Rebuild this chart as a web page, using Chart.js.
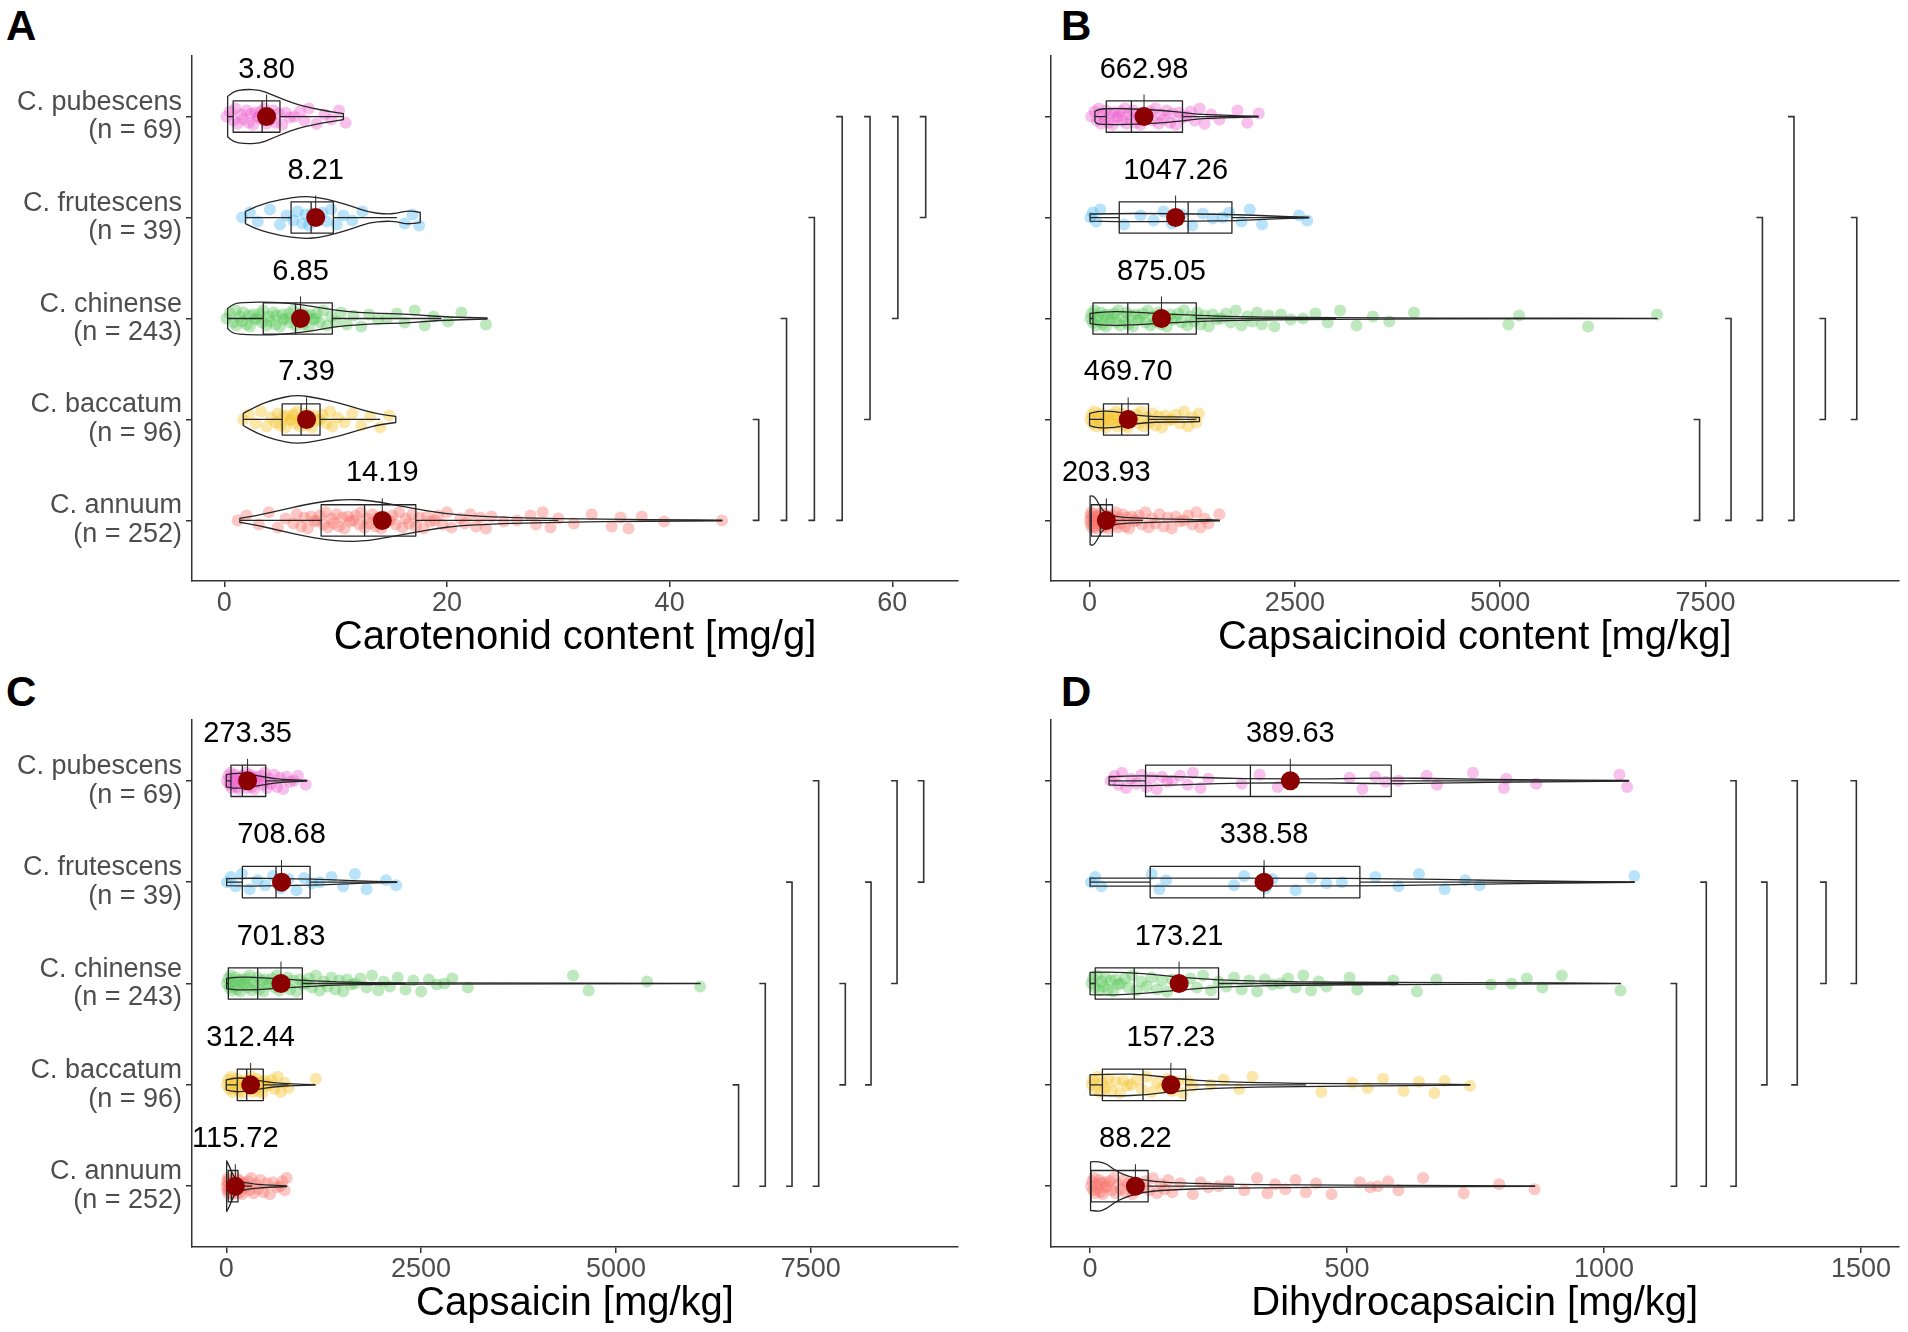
<!DOCTYPE html>
<html>
<head>
<meta charset="utf-8">
<script src="https://cdn.jsdelivr.net/npm/chart.js@4.4.1/dist/chart.umd.min.js"></script>
<style>
  html, body { margin: 0; padding: 0; background: #fff; }
  body { width: 1908px; height: 1332px; position: relative; overflow: hidden; font-family: 'Liberation Sans', Arial, sans-serif; }
  canvas { position: absolute; }
  .tag { position: absolute; font-weight: bold; font-size: 42px; line-height: 42px; color: #000; }
</style>
</head>
<body>
<div class="tag" style="left:6px;top:5px">A</div>
<div class="tag" style="left:1061px;top:5px">B</div>
<div class="tag" style="left:6px;top:671px">C</div>
<div class="tag" style="left:1061px;top:671px">D</div>
<canvas id="panelA" width="990" height="666" style="left:0;top:0"></canvas>
<canvas id="panelB" width="918" height="666" style="left:990px;top:0"></canvas>
<canvas id="panelC" width="990" height="666" style="left:0;top:666px"></canvas>
<canvas id="panelD" width="918" height="666" style="left:990px;top:666px"></canvas>
<script>
// categories, bottom to top
const species = ['C. annuum', 'C. baccatum', 'C. chinense', 'C. frutescens', 'C. pubescens'];
const sampleSizes = [252, 96, 243, 39, 69];
const speciesColors = ['#F8766D', '#F5C227', '#5CC85C', '#4DB8F2', '#EE62D0'];
// small vertical spread of the jittered dots (category units)
const jitterOffsets = [0, 0.05, -0.04, 0.08, -0.07, 0.02, -0.03, 0.06, -0.06, 0.03, -0.08, 0.04, -0.01];

// ---- A: carotenoid content [mg/g]
const carotTicks = [0, 20, 40, 60];
const carotMeans = [14.19, 7.39, 6.85, 8.21, 3.80];
// [whisker low, q1, median, q3, whisker high]
const carotBoxes = [[1.4, 8.7, 12.6, 17.2, 30.0], [1.7, 5.2, 6.9, 8.6, 14.0], [0.3, 3.5, 6.4, 9.7, 19.5], [1.9, 6.0, 7.8, 9.8, 15.5], [0.3, 0.8, 3.4, 5.0, 10.7]];
const carotViolins = [
  [[1.4,0.02],[3,0.05],[5,0.1],[7,0.15],[9,0.19],[11,0.21],[13,0.2],[15,0.16],[17,0.12],[19,0.08],[21,0.055],[24,0.035],[28,0.022],[32,0.015],[36,0.01],[40,0.006],[44.7,0.003]],
  [[1.7,0.06],[3,0.14],[4.5,0.2],[6.5,0.245],[8.5,0.21],[10.5,0.16],[12.5,0.09],[14,0.05],[15.4,0.03]],
  [[0.3,0.1],[0.8,0.15],[2,0.16],[4,0.165],[6,0.15],[8,0.12],[10,0.08],[12,0.06],[14,0.05],[16,0.045],[18,0.03],[20,0.015],[23.6,0.005]],
  [[1.9,0.06],[3,0.12],[5,0.18],[7,0.21],[8.5,0.2],[10,0.16],[11.5,0.11],[13,0.05],[14.5,0.035],[15.5,0.04],[16.5,0.07],[17.6,0.05]],
  [[0.3,0.2],[0.8,0.25],[1.8,0.27],[3.2,0.265],[4.2,0.22],[5.3,0.17],[6.5,0.12],[8,0.08],[9.5,0.05],[10.7,0.03]]
];
const carotPoints = [
  [1.2,2.0,3.1,4.0,4.8,5.5,6.2,6.5,6.9,7.2,7.5,7.8,8.1,8.3,8.6,8.9,9.1,9.3,9.6,9.8,10.1,10.3,10.6,10.8,11.1,11.3,11.6,11.8,12.1,12.3,12.6,12.8,13.1,13.3,13.6,13.8,14.1,14.3,14.6,14.9,15.1,15.4,15.7,16.0,16.3,16.6,16.9,17.2,17.5,17.9,18.2,18.5,18.9,19.2,19.6,20.0,20.4,21.2,21.6,22.1,22.6,23.0,23.5,24.0,25.1,26.3,27.5,28.0,28.6,29.3,30.0,31.4,33.0,34.8,35.6,36.3,37.5,39.5,44.7],
  [1.7,2.2,2.8,3.3,3.8,4.2,4.6,4.8,5.0,5.3,5.5,5.6,5.9,6.0,6.2,6.4,6.5,6.8,6.9,7.1,7.3,7.4,7.7,7.9,8.0,8.4,8.6,8.8,9.2,9.5,9.7,10.2,10.8,11.5,12.3,13.1,14.0,14.8],
  [0.2,0.5,0.8,1.0,1.1,1.4,1.6,1.7,2.0,2.2,2.3,2.6,2.8,2.9,3.2,3.4,3.5,3.8,4.0,4.1,4.4,4.6,4.7,5.0,5.2,5.3,5.6,5.8,5.9,6.2,6.4,6.5,6.8,7.0,7.1,7.4,7.6,7.7,8.0,8.2,8.3,8.6,8.9,9.2,9.6,10.0,10.5,11.0,11.6,12.3,13.0,13.8,14.6,15.5,16.2,17.1,18.0,18.8,20.1,21.3,23.5],
  [1.6,2.3,3.0,4.1,5.0,5.6,6.2,6.6,7.0,7.3,7.6,7.9,8.2,8.5,8.8,9.2,9.6,10.1,10.7,11.5,12.4,16.2,16.9,17.5],
  [0.2,0.5,0.8,1.0,1.2,1.5,1.7,2.0,2.2,2.4,2.6,2.8,3.0,3.1,3.3,3.5,3.6,3.8,4.0,4.2,4.4,4.6,4.9,5.2,5.5,5.9,6.3,6.8,7.2,7.6,8.3,9.0,9.6,10.3,10.9]
];
// [position, from species, to species]
const carotBrackets = [[48,1,0],[50.5,2,0],[53,3,0],[55.5,4,0],[58,4,1],[60.5,4,2],[63,4,3]];

// ---- B: capsaicinoid content [mg/kg]
const capsinoidTicks = [0, 2500, 5000, 7500];
const capsinoidMeans = [203.93, 469.70, 875.05, 1047.26, 662.98];
const capsinoidBoxes = [[6, 20, 130, 278, 650], [0, 169, 391, 717, 1300], [6, 41, 465, 1299, 3000], [6, 361, 1200, 1733, 2670], [65, 203, 509, 1131, 2053]];
const capsinoidViolins = [
  [[6,0.24],[40,0.25],[90,0.2],[150,0.1],[250,0.05],[400,0.03],[700,0.02],[1000,0.012],[1300,0.01],[1580,0.003]],
  [[0,0.06],[100,0.085],[300,0.08],[500,0.05],[700,0.03],[900,0.025],[1150,0.025],[1338,0.02]],
  [[6,0.05],[200,0.07],[500,0.065],[900,0.045],[1300,0.03],[1800,0.018],[2500,0.01],[3500,0.006],[5000,0.003],[6910,0.002]],
  [[6,0.035],[300,0.04],[800,0.04],[1300,0.035],[1800,0.03],[2200,0.015],[2670,0.003]],
  [[65,0.05],[100,0.075],[300,0.08],[600,0.075],[900,0.06],[1100,0.045],[1300,0.025],[1600,0.012],[2053,0.003]]
];
const capsinoidPoints = [
  [5,10,15,20,30,35,45,50,60,70,80,90,100,110,120,130,140,150,160,170,185,200,210,225,240,255,270,285,300,320,340,360,380,405,430,455,480,510,540,570,600,640,680,720,760,800,850,900,950,1000,1050,1100,1150,1200,1250,1300,1350,1400,1450,1580],
  [10,25,40,60,80,100,120,140,160,180,200,220,240,260,280,300,320,340,360,380,400,420,440,465,490,515,540,570,600,630,660,700,730,770,800,840,880,920,960,1000,1050,1100,1150,1200,1250,1300,1330],
  [10,25,40,60,80,100,120,140,160,180,200,225,250,275,300,325,350,375,400,425,450,475,500,530,560,590,620,650,680,710,740,770,800,840,870,900,940,980,1010,1050,1080,1120,1150,1190,1230,1270,1310,1350,1400,1450,1500,1550,1600,1660,1720,1780,1850,1920,1980,2040,2100,2180,2250,2330,2450,2600,2750,2900,3050,3250,3450,3650,3950,5100,5230,6070,6910],
  [10,40,80,130,420,620,780,900,1000,1120,1250,1380,1500,1620,1700,1850,1950,2100,2550,2650],
  [20,60,90,110,140,160,180,200,230,250,280,300,330,350,380,400,430,450,480,500,530,560,590,620,650,680,710,740,770,800,840,870,900,940,980,1010,1050,1090,1140,1180,1230,1280,1340,1400,1480,1580,1800,1920,2060]
];
const capsinoidBrackets = [[7428,1,0],[7811,2,0],[8193,3,0],[8577,4,0],[8959,2,1],[9342,3,1]];

// ---- C: capsaicin [mg/kg]
const capsaicinTicks = [0, 2500, 5000, 7500];
const capsaicinMeans = [115.72, 312.44, 701.83, 708.68, 273.35];
const capsaicinBoxes = [[5, 25, 65, 150, 330], [0, 141, 262, 475, 800], [5, 26, 403, 976, 2300], [5, 206, 638, 1075, 2188], [0, 60, 206, 506, 1000]];
const capsaicinViolins = [
  [[5,0.25],[40,0.2],[90,0.1],[150,0.05],[300,0.025],[500,0.012],[775,0.003]],
  [[0,0.05],[100,0.07],[250,0.065],[400,0.045],[600,0.02],[850,0.008],[1139,0.003]],
  [[5,0.05],[150,0.065],[400,0.06],[700,0.045],[1000,0.03],[1400,0.015],[2000,0.008],[3000,0.004],[6080,0.002]],
  [[5,0.035],[300,0.04],[700,0.035],[1100,0.03],[1500,0.018],[1900,0.008],[2188,0.003]],
  [[0,0.06],[100,0.075],[250,0.07],[400,0.05],[550,0.03],[700,0.015],[1032,0.003]]
];
const capsaicinPoints = [
  [5,10,15,20,25,30,40,45,55,60,70,80,85,95,100,110,120,130,140,150,165,180,190,205,220,240,260,280,300,320,350,380,410,440,480,520,560,600,650,690,720,750,775],
  [10,25,40,60,80,100,120,140,160,180,200,220,240,260,280,300,320,340,360,380,400,420,440,465,490,520,550,580,620,660,700,750,800,1150],
  [10,25,40,55,70,85,100,120,140,160,180,200,220,240,260,280,300,325,350,375,400,425,450,475,500,530,560,590,620,650,680,715,750,785,820,860,900,940,980,1020,1060,1100,1150,1200,1250,1300,1350,1400,1450,1500,1550,1600,1650,1720,1800,1870,1950,2020,2100,2200,2300,2400,2500,2600,2700,2800,2900,3100,4450,4650,5400,6080],
  [10,60,120,200,300,400,500,600,700,800,900,1000,1100,1200,1350,1500,1650,1800,2050,2180],
  [10,25,40,55,70,85,100,115,130,145,160,175,190,205,220,235,250,265,280,295,310,325,340,360,380,400,420,445,470,495,520,550,580,615,650,690,730,775,820,870,920,1020]
];
const capsaicinBrackets = [[6574,1,0],[6917,2,0],[7260,3,0],[7602,4,0],[7944,2,1],[8274,3,1],[8608,4,2],[8950,4,3]];

// ---- D: dihydrocapsaicin [mg/kg]
const dihydroTicks = [0, 500, 1000, 1500];
const dihydroMeans = [88.22, 157.23, 173.21, 338.58, 389.63];
const dihydroBoxes = [[1, 2, 55, 113, 280], [0, 24, 103, 186, 420], [0, 10, 86, 250, 600], [0, 117, 338, 525, 1059], [37, 108, 312, 586, 1048]];
const dihydroViolins = [
  [[1,0.24],[25,0.25],[55,0.13],[100,0.06],[150,0.035],[250,0.02],[400,0.012],[600,0.008],[865,0.002]],
  [[0,0.1],[50,0.11],[110,0.1],[170,0.06],[250,0.03],[400,0.015],[600,0.01],[739,0.003]],
  [[0,0.11],[40,0.115],[100,0.1],[180,0.06],[260,0.03],[400,0.015],[600,0.01],[800,0.008],[1032,0.002]],
  [[0,0.04],[150,0.04],[400,0.04],[600,0.035],[758,0.02],[900,0.008],[1059,0.002]],
  [[37,0.04],[80,0.05],[150,0.045],[250,0.025],[350,0.02],[450,0.018],[580,0.03],[700,0.02],[850,0.01],[1048,0.003]]
];
const dihydroPoints = [
  [2,4,6,8,10,12,15,18,20,22,25,28,30,34,38,42,46,50,55,60,65,70,75,82,88,95,100,108,115,122,130,138,145,152,160,175,200,215,230,250,270,300,325,345,360,380,400,420,440,470,525,545,560,580,600,648,727,796,865],
  [3,6,10,15,20,25,30,35,42,50,58,65,72,80,90,100,110,120,130,140,150,160,170,180,190,200,235,260,290,316,450,510,540,570,610,640,670,690,739],
  [3,6,10,14,18,22,26,30,35,40,45,50,55,60,68,75,82,90,100,110,120,130,140,150,160,170,182,195,208,220,235,250,265,280,295,310,325,340,355,370,385,400,415,430,445,460,505,520,590,636,674,780,820,850,880,918,1032],
  [2,10,22,120,135,148,280,300,342,355,400,430,460,490,555,600,640,690,730,758,1059],
  [40,48,55,62,70,80,90,100,110,120,130,140,150,160,175,190,200,215,230,295,330,365,505,530,555,575,600,655,675,745,805,810,868,1030,1045]
];
const dihydroBrackets = [[1141,2,0],[1199,3,0],[1257,4,0],[1317,3,1],[1376,4,1],[1432,3,2],[1491,4,2]];

Chart.defaults.font.family = "'Liberation Sans', Arial, sans-serif";

function withAlpha(hex, a) {
  const n = parseInt(hex.slice(1), 16);
  return `rgba(${n >> 16}, ${(n >> 8) & 255}, ${n & 255}, ${a})`;
}

function smoothTo(ctx, pts) {
  // quadratic through midpoints, path already started at pts[0]
  for (let i = 1; i < pts.length - 1; i++) {
    const mx = (pts[i][0] + pts[i + 1][0]) / 2, my = (pts[i][1] + pts[i + 1][1]) / 2;
    ctx.quadraticCurveTo(pts[i][0], pts[i][1], mx, my);
  }
  const last = pts[pts.length - 1];
  ctx.lineTo(last[0], last[1]);
}

function overlay(p) {
  return {
    id: 'overlay',
    beforeDatasetDraw(chart, args) {
      if (chart.data.datasets[args.index].label !== 'mean') return;
      const { ctx, scales: { x, y } } = chart;
      ctx.save();
      ctx.strokeStyle = '#262626';
      ctx.lineWidth = 1.3;
      ctx.lineJoin = 'round';
      p.violins.forEach((shape, s) => {
        const top = shape.map(([v, w]) => [x.getPixelForValue(v), y.getPixelForValue(s + 1 + w)]);
        const bot = shape.map(([v, w]) => [x.getPixelForValue(v), y.getPixelForValue(s + 1 - w)]).reverse();
        ctx.beginPath();
        ctx.moveTo(top[0][0], top[0][1]);
        smoothTo(ctx, top);
        ctx.lineTo(bot[0][0], bot[0][1]);
        smoothTo(ctx, bot);
        ctx.closePath();
        ctx.stroke();
      });
      p.boxes.forEach(([lo, q1, med, q3, hi], s) => {
        const yc = y.getPixelForValue(s + 1);
        const yt = y.getPixelForValue(s + 1 + 0.155), yb = y.getPixelForValue(s + 1 - 0.155);
        const x1 = x.getPixelForValue(q1), x3 = x.getPixelForValue(q3), xm = x.getPixelForValue(med);
        ctx.beginPath();
        ctx.rect(x1, yt, x3 - x1, yb - yt);
        ctx.moveTo(xm, yt); ctx.lineTo(xm, yb);
        ctx.moveTo(x.getPixelForValue(lo), yc); ctx.lineTo(x1, yc);
        ctx.moveTo(x3, yc); ctx.lineTo(x.getPixelForValue(hi), yc);
        ctx.stroke();
      });
      ctx.lineWidth = 1;
      p.means.forEach((m, s) => {
        const xm = x.getPixelForValue(m), yc = y.getPixelForValue(s + 1);
        ctx.beginPath(); ctx.moveTo(xm, yc); ctx.lineTo(xm, yc - 22); ctx.stroke();
      });
      ctx.restore();
    },
    afterDatasetsDraw(chart) {
      const { ctx, scales: { x, y } } = chart;
      ctx.save();
      ctx.fillStyle = '#000';
      ctx.font = "29px 'Liberation Sans', Arial, sans-serif";
      ctx.textAlign = 'center';
      ctx.textBaseline = 'middle';
      p.means.forEach((m, s) => {
        ctx.fillText(m.toFixed(2), x.getPixelForValue(m), y.getPixelForValue(s + 1) - 47);
      });
      ctx.strokeStyle = '#333';
      ctx.lineWidth = 1.6;
      p.brackets.forEach(([pos, a, b]) => {
        const px = x.getPixelForValue(pos);
        const y1 = y.getPixelForValue(a + 1), y2 = y.getPixelForValue(b + 1);
        ctx.beginPath();
        ctx.moveTo(px - 6, y1); ctx.lineTo(px, y1); ctx.lineTo(px, y2); ctx.lineTo(px - 6, y2);
        ctx.stroke();
      });
      ctx.restore();
    }
  };
}

function makePanel(id, p) {
  const datasets = [{
    label: 'mean', order: 1,
    data: p.means.map((m, s) => ({ x: m, y: s + 1 })),
    backgroundColor: '#8B0000', pointRadius: 9.5, borderWidth: 0
  }];
  p.points.forEach((vals, s) => {
    datasets.push({
      label: species[s], order: 2,
      data: vals.map((v, k) => ({ x: v, y: s + 1 + jitterOffsets[k % jitterOffsets.length] })),
      backgroundColor: withAlpha(speciesColors[s], 0.4), pointRadius: 6, borderWidth: 0
    });
  });
  new Chart(document.getElementById(id), {
    type: 'scatter',
    data: { datasets },
    options: {
      responsive: false,
      animation: false,
      events: [],
      layout: { padding: { left: 0, top: p.padTop, right: p.padRight, bottom: 0 } },
      plugins: { legend: { display: false }, tooltip: { enabled: false } },
      scales: {
        x: {
          type: 'linear', min: p.min, max: p.max,
          afterBuildTicks: s => { s.ticks = p.ticks.map(v => ({ value: v })); },
          afterFit: s => { s.height = 85; },
          ticks: { color: '#4d4d4d', font: { size: 27 }, padding: 0, callback: v => String(v), maxRotation: 0 },
          grid: { display: true, drawOnChartArea: false, drawTicks: true, tickLength: 6, color: '#333', lineWidth: 1.5 },
          border: { display: true, color: '#333', width: 1.5 },
          title: { display: true, text: p.title, color: '#000', font: { size: 40 }, padding: { top: 0, bottom: 4 } }
        },
        y: {
          type: 'linear', min: 0.4, max: 5.6,
          afterBuildTicks: s => { s.ticks = [1, 2, 3, 4, 5].map(v => ({ value: v })); },
          afterFit: s => { s.width = p.yWidth; },
          ticks: {
            color: '#4d4d4d', font: { size: 27, lineHeight: 1.07 }, padding: 4,
            callback: v => p.labels ? [species[v - 1], `(n = ${sampleSizes[v - 1]})`] : ''
          },
          grid: { display: true, drawOnChartArea: false, drawTicks: true, tickLength: 6, color: '#333', lineWidth: 1.5 },
          border: { display: true, color: '#333', width: 1.5 }
        }
      }
    },
    plugins: [overlay(p)]
  });
}

makePanel('panelA', { title: 'Carotenonid content [mg/g]', min: -2.9, max: 65.9, ticks: carotTicks, means: carotMeans, boxes: carotBoxes, violins: carotViolins, points: carotPoints, brackets: carotBrackets, labels: true, yWidth: 192, padTop: 56, padRight: 32 });
makePanel('panelB', { title: 'Capsaicinoid content [mg/kg]', min: -470, max: 9850, ticks: capsinoidTicks, means: capsinoidMeans, boxes: capsinoidBoxes, violins: capsinoidViolins, points: capsinoidPoints, brackets: capsinoidBrackets, labels: false, yWidth: 61, padTop: 56, padRight: 2.5 });
makePanel('panelC', { title: 'Capsaicin [mg/kg]', min: -440, max: 9390, ticks: capsaicinTicks, means: capsaicinMeans, boxes: capsaicinBoxes, violins: capsaicinViolins, points: capsaicinPoints, brackets: capsaicinBrackets, labels: true, yWidth: 192, padTop: 54, padRight: 32 });
makePanel('panelD', { title: 'Dihydrocapsaicin [mg/kg]', min: -76, max: 1573, ticks: dihydroTicks, means: dihydroMeans, boxes: dihydroBoxes, violins: dihydroViolins, points: dihydroPoints, brackets: dihydroBrackets, labels: false, yWidth: 61, padTop: 54, padRight: 2.5 });
</script>
</body>
</html>
